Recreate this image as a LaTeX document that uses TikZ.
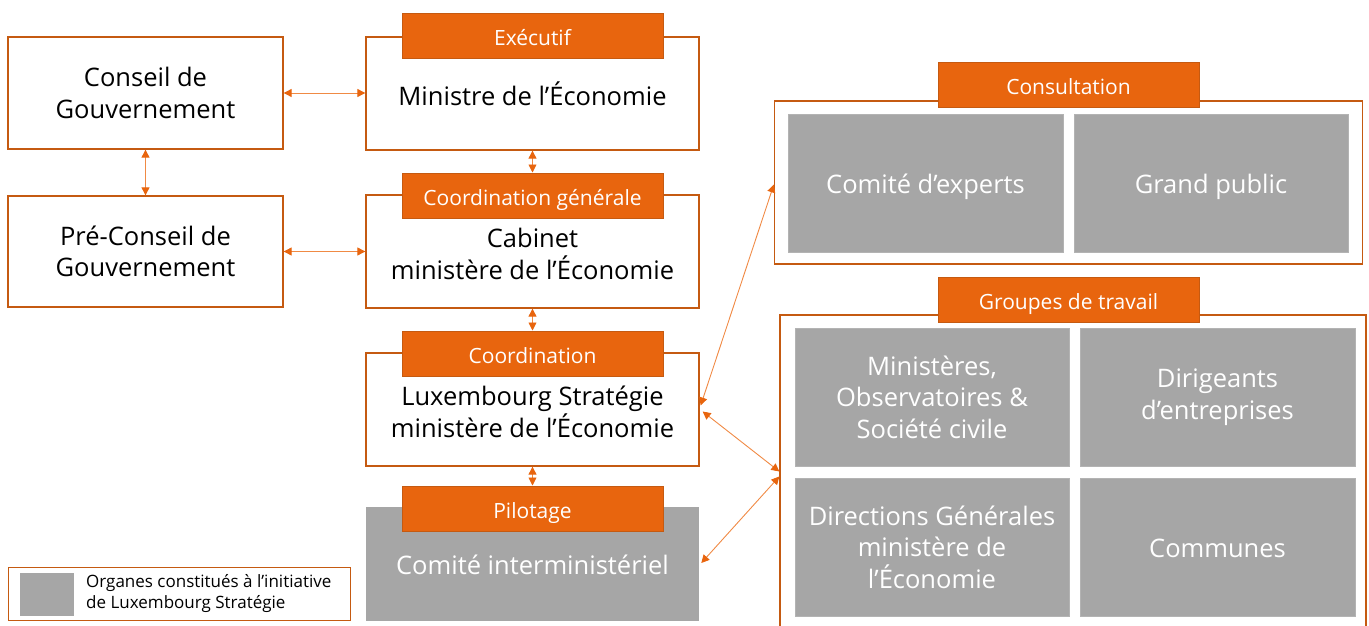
\documentclass[tikz,border=0pt]{standalone}
\usepackage{fontspec}
\setmainfont{Open Sans}
\usetikzlibrary{arrows.meta,calc}
\definecolor{orng}{HTML}{E8650E}
\definecolor{bord}{HTML}{C55A11}
\definecolor{arr}{HTML}{F08A44}
\definecolor{gry}{HTML}{A6A6A6}
\tikzset{
  wbox/.style={draw=bord, line width=1.3pt, fill=white, align=center, inner sep=0pt,
    font=\fontsize{25.5}{31.5}\selectfont, text=black},
  tabbox/.style={draw=bord, line width=1pt, fill=orng, align=center, inner sep=0pt,
    minimum width=261pt, minimum height=45pt, text=white, font=\fontsize{21}{24}\selectfont,
    text height=21pt, text depth=2pt},
  gbox/.style={draw=gry!85!white, line width=0.6pt, fill=gry, align=center, inner sep=0pt,
    text=white, font=\fontsize{25.5}{31.5}\selectfont},
  oneline/.style={text height=24pt, text depth=4pt},
  frame/.style={draw=bord, line width=1.3pt, inner sep=0pt},
  link/.style={draw=arr, line width=0.9pt, {Triangle[length=8pt,width=8pt,color=orng]}-{Triangle[length=8pt,width=8pt,color=orng]}}
}
\begin{document}
\begin{tikzpicture}[x=1pt,y=-1pt]
\useasboundingbox (0,0) rectangle (1369,626);
\clip (0,0) rectangle (1369,626);
% left column
\node[wbox, minimum width=275pt, minimum height=112pt] (cons) at (145.5,93) {Conseil de\\Gouvernement};
\node[wbox, minimum width=275pt, minimum height=111pt] (pre) at (145.5,251.5) {Pré-Conseil de\\Gouvernement};
% middle column
\node[wbox, minimum width=333pt, minimum height=113pt] (min) at (532.5,93.5) {Ministre de l’Économie};
\node[tabbox] (t1) at (532.5,36.5) {Exécutif};
\node[wbox, minimum width=333pt, minimum height=113pt] (cab) at (532.5,251.5) {\rule{0pt}{24pt}Cabinet\\ministère de l’Économie};
\node[tabbox] (t2) at (532.5,195.5) {Coordination générale};
\node[wbox, minimum width=333pt, minimum height=113pt] (lux) at (532.5,409.5) {\rule{0pt}{24pt}Luxembourg Stratégie\\ministère de l’Économie};
\node[tabbox] (t3) at (532.5,353.5) {Coordination};
\node[gbox, oneline, draw=none, minimum width=333pt, minimum height=114pt] (com) at (532.5,564) {Comité interministériel};
\node[tabbox] (t4) at (532.5,508.5) {Pilotage};
% consultation
\node[frame, minimum width=588pt, minimum height=163pt] (consf) at (1068.5,182.5) {};
\node[gbox, oneline, minimum width=275pt, minimum height=138pt] (exp) at (925.5,183) {Comité d’experts};
\node[gbox, oneline, minimum width=274pt, minimum height=138pt] (gp) at (1211,183) {Grand public};
\node[tabbox] (t5) at (1068.5,85) {Consultation};
% groupes de travail
\node[frame, minimum width=586pt, minimum height=325pt] (grpf) at (1073,477.5) {};
\node[gbox, minimum width=274pt, minimum height=138pt] (g1) at (932,397) {Ministères,\\Observatoires \&\\Société civile};
\node[gbox, minimum width=275pt, minimum height=138pt] (g2) at (1217.5,397) {Dirigeants\\d’entreprises};
\node[gbox, minimum width=274pt, minimum height=138pt] (g3) at (932,547) {Directions Générales\\ministère de\\l’Économie};
\node[gbox, oneline, minimum width=275pt, minimum height=138pt] (g4) at (1217.5,547) {Communes};
\node[tabbox] (t6) at (1068.5,300) {Groupes de travail};
% legend
\node[frame, line width=1pt, minimum width=342pt, minimum height=53pt] (leg) at (179,593.5) {};
\node[gbox, draw=none, minimum width=54pt, minimum height=43pt] (legsq) at (47,594) {};
\node[anchor=west, align=left, inner sep=0pt, font=\fontsize{17}{21}\selectfont] (legtx) at (86,594) {Organes constitués à l’initiative\\de Luxembourg Stratégie};
% connectors
\coordinate (a1) at ($(lux.east)+(1,-4)$);
\coordinate (a2) at ($(lux.east)+(3,2)$);
\coordinate (b1) at ($(consf.west)+(0,2)$);
\coordinate (b2) at ($(grpf.west)+(0,-6)$);
\coordinate (b3) at ($(grpf.west)+(0,-1)$);
\coordinate (c1) at ($(com.east)+(2,-1)$);
\path[link] (cons.east) -- (cons.east -| min.west);
\path[link] (cons.south) -- (pre.north);
\path[link] (pre.east) -- (pre.east -| cab.west);
\path[link] (min.south) -- (t2.north);
\path[link] (cab.south) -- (t3.north);
\path[link] (lux.south) -- (t4.north);
\path[link] (a1) -- (b1);
\path[link] (a2) -- (b2);
\path[link] (c1) -- (b3);
\end{tikzpicture}
\end{document}
